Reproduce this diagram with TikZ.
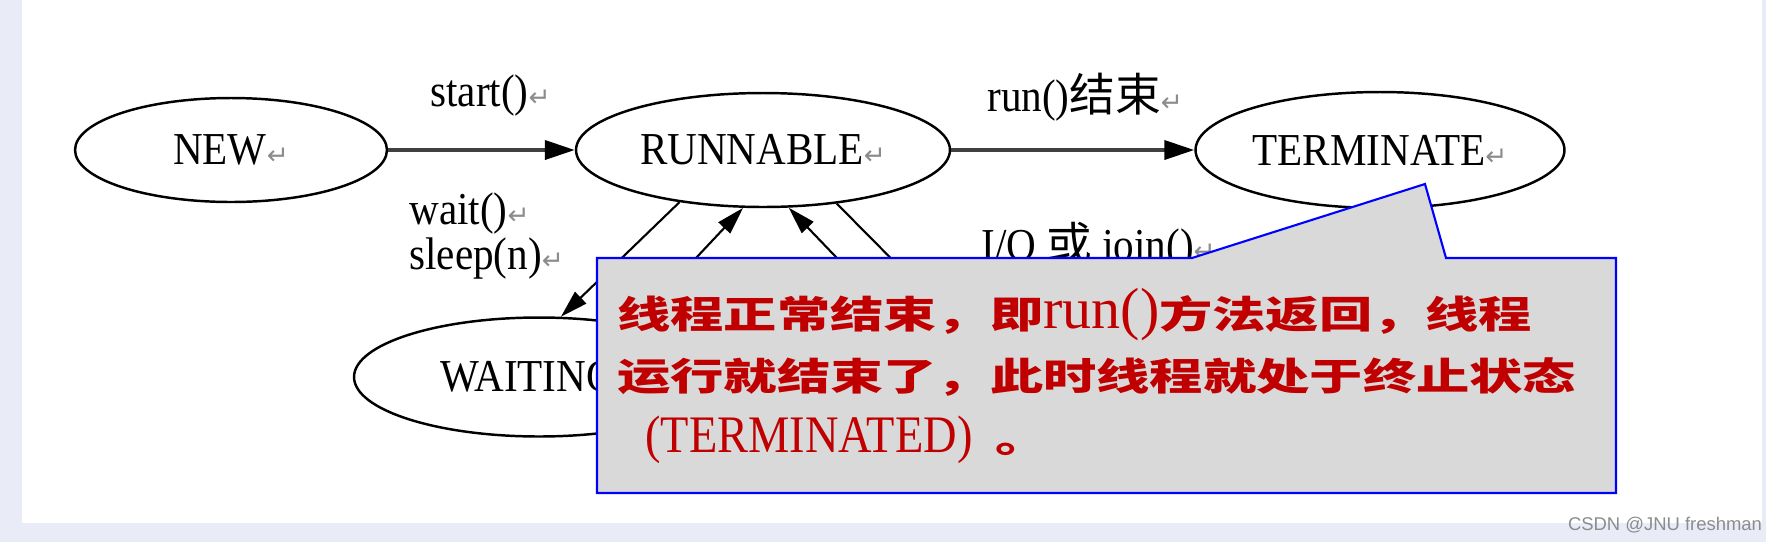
\documentclass[tikz,border=0pt]{standalone}
\usepackage{fontspec}
\usepackage{tikz}
\usetikzlibrary{arrows.meta,positioning,shapes}
\newfontfamily\labelfont{Liberation Serif}[FakeStretch=0.9]
\newfontfamily\serifplain{Liberation Serif}
\newfontfamily\notelatin{Liberation Serif}[FakeStretch=0.88]
\newfontfamily\cjklabel{Noto Sans CJK SC}
\newfontfamily\cjknote{Noto Sans CJK SC}[FakeStretch=1.41]
\newfontfamily\symfont{DejaVu Sans}
\newfontfamily\markfont{Liberation Sans}
\definecolor{notered}{RGB}{192,0,0}
\definecolor{notefill}{RGB}{217,217,217}
\definecolor{noteblue}{RGB}{0,0,255}
\definecolor{bgtint}{RGB}{233,236,247}
\newcommand{\ret}{{\symfont\color{black!45}\fontsize{15}{15}\selectfont ↵}}
\tikzset{
  state/.style={ellipse, draw, line width=1.4pt, inner sep=0pt, font=\labelfont\fontsize{26}{30}\selectfont},
  lbl/.style={anchor=base west, inner sep=0pt, font=\labelfont\fontsize{26}{30}\selectfont},
  arrow/.style={-{Triangle[length=0.6cm,width=0.38cm,color=black]}, line width=2.2pt, black!75},
  diag/.style={-{Triangle[length=0.55cm,width=0.32cm]}, line width=1.2pt},
  note/.style={fill=notefill, draw=noteblue, line width=1.2pt},
  notetext/.style={anchor=base west, inner sep=0pt, text=notered, font=\cjknote\bfseries\fontsize{21.5}{26}\selectfont},
}
\begin{document}
\begin{tikzpicture}[x=0.02cm, y=-0.02cm]
  \useasboundingbox (0,0) rectangle (1766,542);
  % backdrop
  \fill[bgtint] (0,0) rectangle (1766,542);
  \fill[white] (22,0) rectangle (1762,523);

  % States
  \node[state, minimum width=6.24cm, minimum height=2.08cm] (new) at (231,150) {NEW\ret};
  \node[state, minimum width=7.48cm, minimum height=2.28cm] (run) at (763,150) {RUNNABLE\ret};
  \node[state, minimum width=7.38cm, minimum height=2.32cm] (term) at (1380,150) {TERMINATE\ret};
  \node[state, minimum width=7.4cm, minimum height=2.38cm] (wait) at (539,377) {WAITING\ret};

  % Transitions
  \draw[arrow] (new) -- (run);
  \draw[arrow] (run) -- (term);
  \coordinate (blkin) at (906,330);
  \coordinate (blkout) at (962,330);
  \draw[diag] (run.212) -- (wait.70);
  \draw[diag] (wait.29) -- (run.251);
  \draw[diag] (blkin) -- (run.294);
  \draw[diag] (run.324) -- (blkout);

  % Labels
  \node[lbl] (lstart) at (430,106) {start()\ret};
  \node[lbl] (lwait) at (409,224) {wait()\ret};
  \node[lbl, below=0.92cm of lwait.base west, anchor=base west] (lsleep) {sleep(n)\ret};
  \node[lbl] (lrun) at (987,111) {run(){\cjklabel 结束}\ret};
  \node[lbl] (lio) at (981,260) {I/O {\cjklabel 或} join()\ret};

  % Callout
  \coordinate (tip) at (1425,184);
  \draw[note] (597,258) -- (1192,258) -- (tip) -- (1446,258) -- (1616,258)
    -- (1616,493) -- (597,493) -- cycle;
  \node[notetext] (note1) at (617,328)
    {线程正常结束，即{\serifplain\mdseries\fontsize{33}{33}\selectfont run()}方法返回，线程};
  \node[notetext, below=1.26cm of note1.base west, anchor=base west] (note2)
    {运行就结束了，此时线程就处于终止状态};
  \node[notetext, below=1.24cm of note2.base west, anchor=base west, xshift=0.56cm] (note3)
    {{\notelatin\mdseries\fontsize{30}{30}\selectfont (TERMINATED)}\hspace{0.45cm}。};

  \node[font=\markfont\fontsize{10.5}{12}\selectfont, text=black!45] (mark) at (1665,525) {CSDN @JNU freshman};
\end{tikzpicture}
\end{document}
